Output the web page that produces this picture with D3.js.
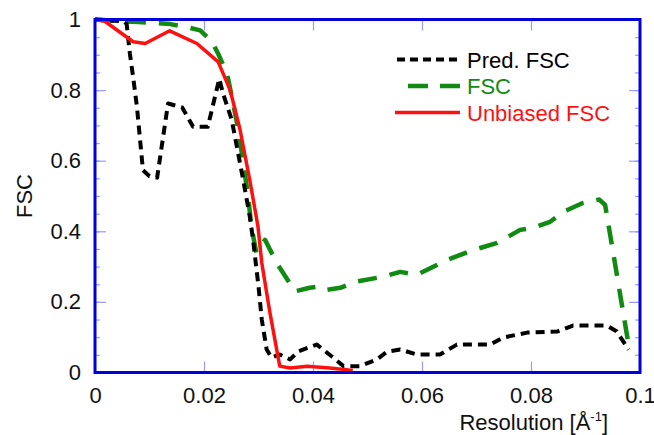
<!DOCTYPE html>
<html>
<head>
<meta charset="utf-8">
<script src="https://cdn.jsdelivr.net/npm/d3@7"></script>
<style>
	body { margin: 0; background: #fff; }
	#vizHolder { width: 654px; height: 435px; }
	text { font-family: "Liberation Sans", Arial, sans-serif; }
</style>
</head>
<body>
<div id="vizHolder"></div>
<script>
// resolution [1/A], correlation
var predFsc = [
	[0, 1.0], [0.0052, 0.995], [0.0058, 0.988], [0.0064, 0.903], [0.0070, 0.837], [0.0077, 0.752],
	[0.0088, 0.573], [0.0100, 0.556], [0.0114, 0.552], [0.0134, 0.762], [0.0160, 0.751],
	[0.0180, 0.696], [0.0207, 0.696], [0.0228, 0.832], [0.0235, 0.790], [0.0251, 0.715],
	[0.0272, 0.545], [0.0284, 0.442], [0.0290, 0.376], [0.0300, 0.244], [0.0306, 0.150],
	[0.0315, 0.065], [0.0324, 0.042], [0.0339, 0.051], [0.0358, 0.037], [0.0373, 0.060],
	[0.0407, 0.079], [0.0434, 0.046], [0.0456, 0.018], [0.0486, 0.018], [0.0517, 0.037],
	[0.0536, 0.059], [0.0560, 0.065], [0.0591, 0.051], [0.0633, 0.051], [0.0664, 0.079],
	[0.0725, 0.079], [0.0749, 0.099], [0.0793, 0.113], [0.0848, 0.116], [0.0877, 0.133],
	[0.0939, 0.133], [0.0957, 0.117], [0.0979, 0.065]
];
var fsc = [
	[0, 1.0], [0.0050, 0.995], [0.0080, 0.993], [0.0110, 0.990], [0.0138, 0.987], [0.0170, 0.978],
	[0.0193, 0.969], [0.0214, 0.939], [0.0226, 0.903], [0.0242, 0.848], [0.0251, 0.782],
	[0.0263, 0.687], [0.0272, 0.594], [0.0281, 0.498], [0.0287, 0.413], [0.0296, 0.340],
	[0.0312, 0.376], [0.0333, 0.311], [0.0367, 0.230], [0.0394, 0.240], [0.0413, 0.244],
	[0.0425, 0.234], [0.0450, 0.240], [0.0480, 0.258], [0.0528, 0.271], [0.0560, 0.285],
	[0.0591, 0.277], [0.0646, 0.319], [0.0694, 0.347], [0.0738, 0.367], [0.0780, 0.404],
	[0.0804, 0.410], [0.0835, 0.427], [0.0859, 0.455], [0.0895, 0.480], [0.0925, 0.490],
	[0.0936, 0.475], [0.0980, 0.070]
];
var unbiasedFsc = [
	[0, 1.0], [0.0018, 0.995], [0.0070, 0.937], [0.0092, 0.932], [0.0137, 0.968], [0.0187, 0.932],
	[0.0226, 0.880], [0.0248, 0.800], [0.0266, 0.689], [0.0284, 0.545], [0.0299, 0.414],
	[0.0306, 0.311], [0.0321, 0.169], [0.0339, 0.018], [0.0358, 0.013], [0.0389, 0.018],
	[0.0431, 0.013], [0.0473, 0.006]
];
var seriesNames = ['Pred. FSC', 'FSC', 'Unbiased FSC'];
var xTicks = [0, 0.02, 0.04, 0.06, 0.08, 0.1];
var xTickLabels = ['0', '0.02', '0.04', '0.06', '0.08', '0.1'];
var yTicks = [0, 0.2, 0.4, 0.6, 0.8, 1];
var yTickLabels = ['0', '0.2', '0.4', '0.6', '0.8', '1'];
var yMinorTicks = d3.range(0, 21).map(function(i) { return i / 20; });

var vizHolder = document.querySelector('#vizHolder'),
	width = 654,
	height = 435,
	plotLeft = 95,
	plotRight = 640,
	plotTop = 19.5,
	plotBottom = 372.5,
	fontSize = 22,
	frameColor = '#0000dd',
	tickColor = '#9a9aff';

var styles = [
	{ data: fsc, color: '#108a10', width: 4.5, dash: '19,13', legendDash: '20,12', legendX1: 408 },
	{ data: predFsc, color: '#000', width: 4, dash: '9,6', legendDash: '8,5', legendX1: 397 },
	{ data: unbiasedFsc, color: '#ff1010', width: 3.5, dash: null, legendDash: null, legendX1: 395 }
];

var xScale = d3.scaleLinear().domain([0, 0.1]).range([plotLeft, plotRight]);
var yScale = d3.scaleLinear().domain([0, 1]).range([plotBottom, plotTop]);

var svg = d3.select(vizHolder)
	.append('svg')
	.attr('width', width)
	.attr('height', height);

function styleAxis(g) {
	g.select('.domain').remove();
	g.selectAll('line').attr('stroke', tickColor).attr('stroke-width', 1.2);
	g.selectAll('text').attr('font-size', fontSize).attr('fill', '#111');
}

//Axes with inward ticks
svg.append('g')
	.attr('transform', 'translate(0,' + plotBottom + ')')
	.call(d3.axisBottom(xScale).tickValues(xTicks).tickSize(-11).tickPadding(15)
		.tickFormat(function(d, i) { return xTickLabels[i]; }))
	.call(styleAxis);
svg.append('g')
	.attr('transform', 'translate(0,' + plotTop + ')')
	.call(d3.axisTop(xScale).tickValues(xTicks.slice(1, -1)).tickSize(-11).tickFormat(''))
	.call(styleAxis);
svg.append('g')
	.attr('transform', 'translate(' + plotLeft + ',0)')
	.call(d3.axisLeft(yScale).tickValues(yMinorTicks).tickSize(-5).tickFormat(''))
	.call(styleAxis);
svg.append('g')
	.attr('transform', 'translate(' + plotLeft + ',0)')
	.call(d3.axisLeft(yScale).tickValues(yTicks).tickSize(-11).tickPadding(14)
		.tickFormat(function(d, i) { return yTickLabels[i]; }))
	.call(styleAxis);
svg.append('g')
	.attr('transform', 'translate(' + plotRight + ',0)')
	.call(d3.axisRight(yScale).tickValues(yMinorTicks).tickSize(-5).tickFormat(''))
	.call(styleAxis);
svg.append('g')
	.attr('transform', 'translate(' + plotRight + ',0)')
	.call(d3.axisRight(yScale).tickValues(yTicks).tickSize(-11).tickFormat(''))
	.call(styleAxis);

var line = d3.line()
	.x(function(d) { return xScale(d[0]); })
	.y(function(d) { return yScale(d[1]); });

styles.forEach(function(s) {
	svg.append('path')
		.datum(s.data)
		.attr('d', line)
		.attr('fill', 'none')
		.attr('stroke', s.color)
		.attr('stroke-width', s.width)
		.attr('stroke-dasharray', s.dash)
		.attr('stroke-linejoin', 'round');
});

svg.append('rect')
	.attr('x', plotLeft)
	.attr('y', plotTop)
	.attr('width', plotRight - plotLeft)
	.attr('height', plotBottom - plotTop)
	.attr('fill', 'none')
	.attr('stroke', frameColor)
	.attr('stroke-width', 3);

//Legend
var legendOrder = [1, 0, 2];
legendOrder.forEach(function(si, i) {
	var s = styles[si],
		ly = 59.5 + i * 26.5;
	svg.append('line')
		.attr('x1', s.legendX1).attr('x2', 460)
		.attr('y1', ly).attr('y2', ly)
		.attr('stroke', s.color)
		.attr('stroke-width', s.width)
		.attr('stroke-dasharray', s.legendDash);
	svg.append('text')
		.attr('x', 467)
		.attr('y', ly + 8)
		.attr('font-size', fontSize)
		.attr('fill', s.color)
		.text(seriesNames[i]);
});

//Axis titles
var xTitle = svg.append('text')
	.attr('x', 608)
	.attr('y', 430)
	.attr('text-anchor', 'end')
	.attr('font-size', fontSize)
	.attr('fill', '#111');
xTitle.append('tspan').text('Resolution [Å');
xTitle.append('tspan').attr('font-size', 13).attr('dy', -9).text('-1');
xTitle.append('tspan').attr('dy', 9).text(']');

svg.append('text')
	.attr('transform', 'translate(32,' + ((plotTop + plotBottom) / 2) + ') rotate(-90)')
	.attr('text-anchor', 'middle')
	.attr('font-size', fontSize)
	.attr('fill', '#111')
	.text('FSC');
</script>
</body>
</html>
